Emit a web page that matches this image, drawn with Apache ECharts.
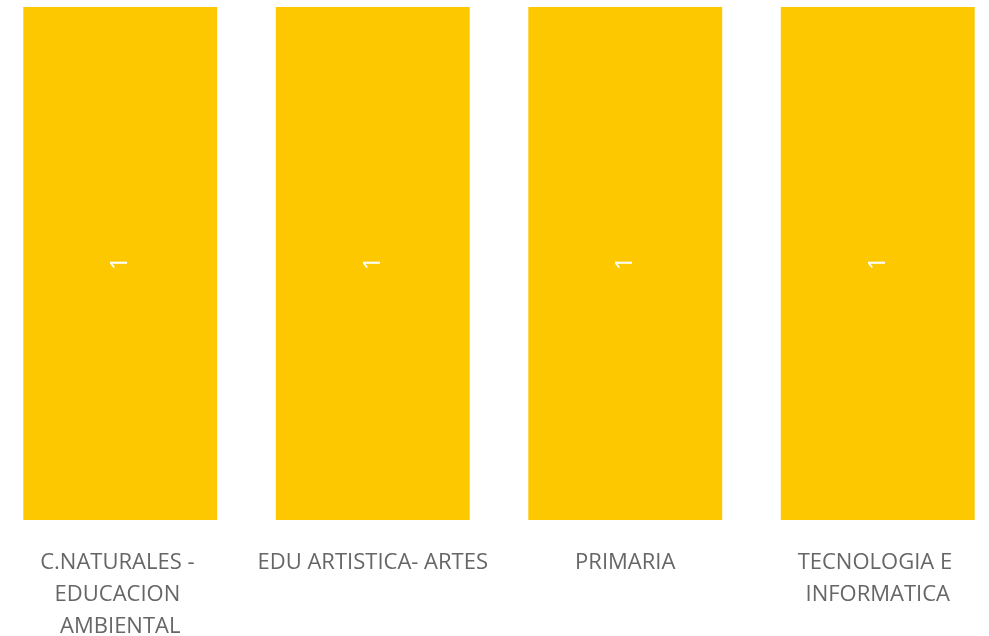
<!DOCTYPE html>
<html>
<head>
<meta charset="utf-8">
<script src="https://cdn.jsdelivr.net/npm/echarts@6/dist/echarts.min.js"></script>
<style>
  html, body { margin: 0; padding: 0; background: #fff; }
  #chart { width: 989px; height: 636px; }
</style>
</head>
<body>
<div id="chart"></div>
<script>
const categories = ['C.NATURALES - EDUCACION AMBIENTAL', 'EDU ARTISTICA- ARTES', 'PRIMARIA', 'TECNOLOGIA E INFORMATICA'];
const counts = [1, 1, 1, 1];

const chart = echarts.init(document.getElementById('chart'));

chart.setOption({
  animation: false,
  grid: {
    top: 7,
    bottom: 116,
    left: -6,
    right: -15,
    containLabel: false,
    outerBoundsMode: 'none'
  },
  xAxis: {
    type: 'category',
    data: categories,
    axisLine: { show: false },
    axisTick: { show: false },
    axisLabel: {
      interval: 0,
      margin: 27,
      width: 240,
      overflow: 'break',
      lineHeight: 32,
      fontSize: 22,
      fontFamily: 'Open Sans',
      color: '#666666'
    }
  },
  yAxis: {
    type: 'value',
    min: 0,
    max: 1,
    show: false
  },
  series: [
    {
      type: 'bar',
      data: counts,
      barWidth: '76.8%',
      itemStyle: { color: '#FDC800' },
      label: {
        show: true,
        position: 'inside',
        rotate: 90,
        color: '#ffffff',
        fontSize: 24,
        fontFamily: 'Open Sans'
      }
    }
  ]
});
</script>
</body>
</html>
